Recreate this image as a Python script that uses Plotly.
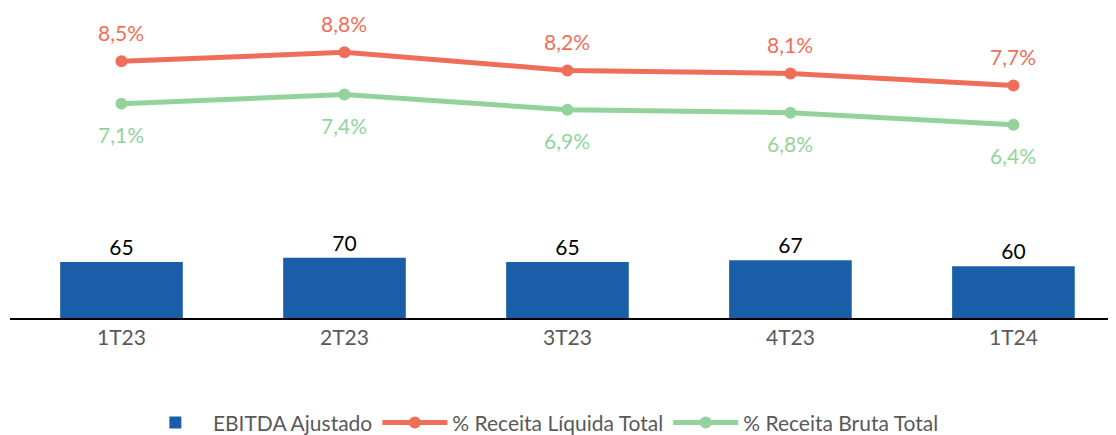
import plotly.graph_objects as go

quarters = ['1T23', '2T23', '3T23', '4T23', '1T24']
ebitda = [65, 70, 65, 67, 60]
pct_liquida = [8.5, 8.8, 8.2, 8.1, 7.7]
pct_bruta = [7.1, 7.4, 6.9, 6.8, 6.4]

blue = '#1A5EA8'
red = '#EF6E5A'
green = '#93D39B'
font = 'Lato'

fig = go.Figure()

fig.add_trace(go.Bar(
    x=quarters, y=ebitda, name='EBITDA Ajustado',
    marker=dict(color=blue, line=dict(width=0)),
    width=0.55,
    text=[str(v) for v in ebitda], textposition='outside',
    textfont=dict(color='#000000', size=21, family=font),
    cliponaxis=False,
))
fig.add_trace(go.Scatter(
    x=quarters, y=pct_liquida, name='% Receita Líquida Total', yaxis='y2',
    mode='lines+markers', line=dict(color=red, width=5),
    marker=dict(color=red, size=12), cliponaxis=False,
))
fig.add_trace(go.Scatter(
    x=quarters, y=pct_bruta, name='% Receita Bruta Total', yaxis='y2',
    mode='lines+markers', line=dict(color=green, width=5),
    marker=dict(color=green, size=12), cliponaxis=False,
))

# percentage labels
for q, v in zip(quarters, pct_liquida):
    fig.add_annotation(x=q, y=v, yref='y2', text=f'{v:.1f}%'.replace('.', ','),
                       showarrow=False, yshift=29,
                       font=dict(color=red, size=21, family=font))
for q, v in zip(quarters, pct_bruta):
    fig.add_annotation(x=q, y=v, yref='y2', text=f'{v:.1f}%'.replace('.', ','),
                       showarrow=False, yshift=-31,
                       font=dict(color=green, size=21, family=font))

# page body has an 8px margin, so offsets are compensated here
fig.update_layout(
    width=1116, height=435,
    margin=dict(l=2, r=8, t=12, b=125, autoexpand=False),
    plot_bgcolor='white', paper_bgcolor='white',
    font=dict(family=font, size=20, color='#595959'),
    bargap=0.45,
    xaxis=dict(type='category', range=[-0.5, 4.46], showline=True,
               linecolor='#000000', linewidth=1.5, ticks='',
               showgrid=False, automargin=False,
               tickfont=dict(size=21, color='#595959')),
    yaxis=dict(range=[0, 345.7], visible=False, showgrid=False, automargin=False),
    yaxis2=dict(range=[0, 9.87], overlaying='y', visible=False, showgrid=False,
                automargin=False),
    legend=dict(orientation='h', x=0.48, xanchor='center', y=-0.283, yanchor='top',
                font=dict(size=21, color='#595959'), itemwidth=65),
    showlegend=True,
)

fig.write_html('out.html')
